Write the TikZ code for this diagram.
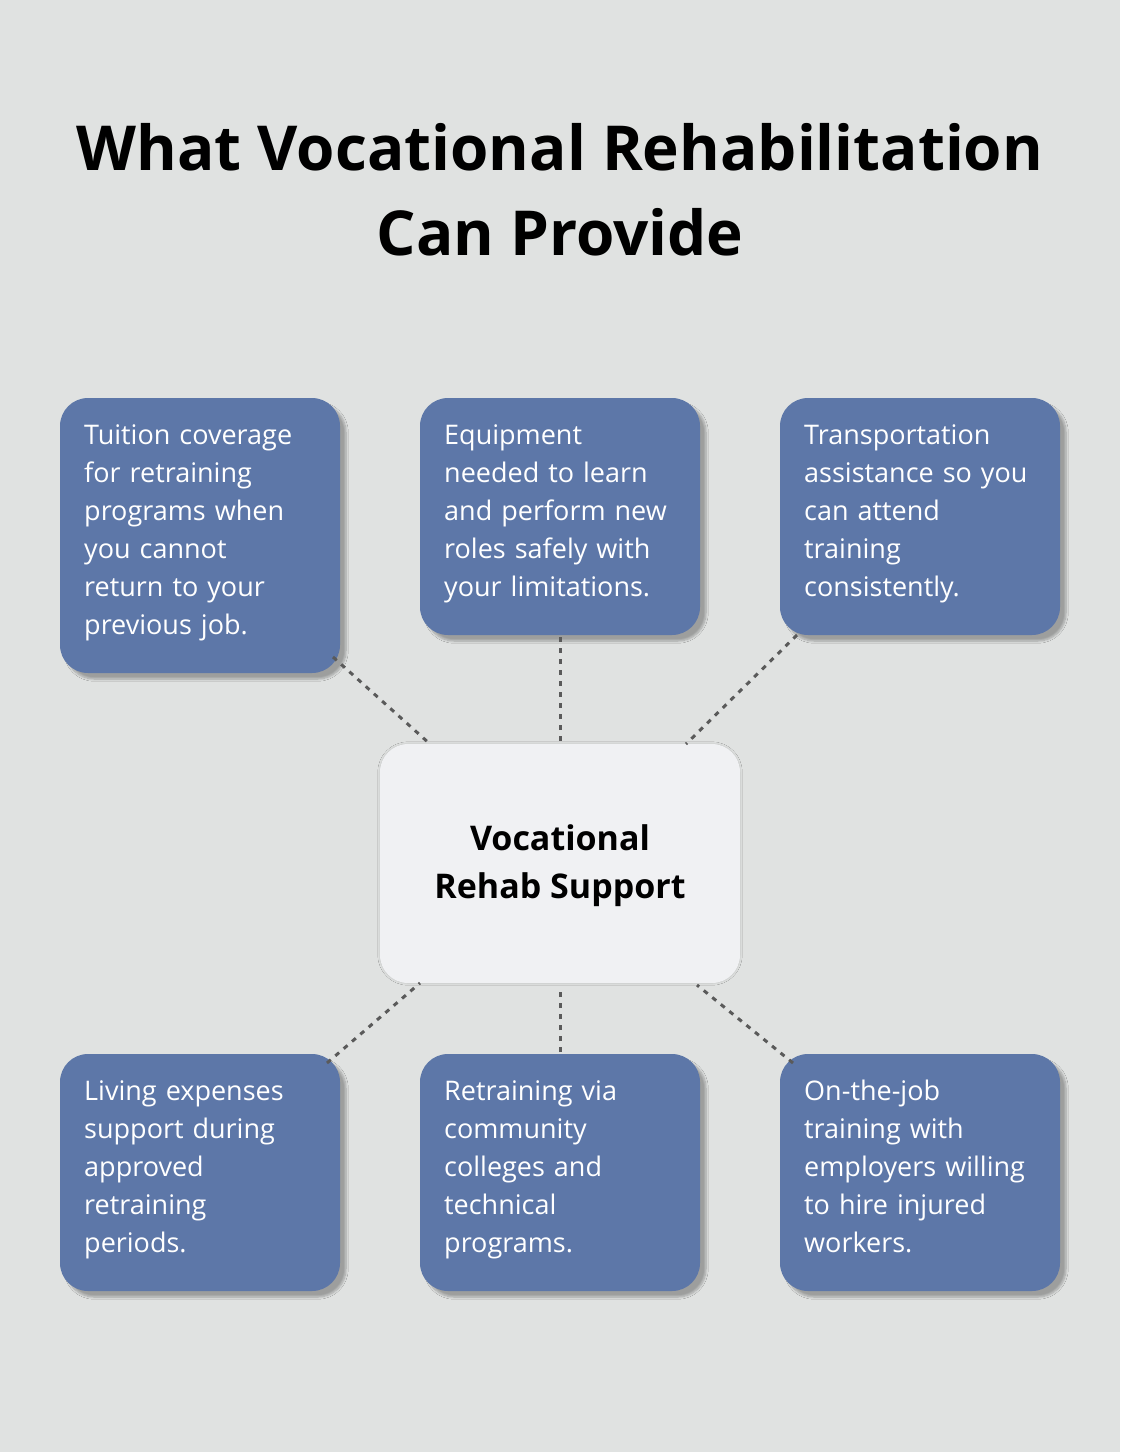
\documentclass[tikz,border=0pt]{standalone}
\usepackage{fontspec}
\setmainfont{Open Sans}
\usetikzlibrary{shadows.blur}
\definecolor{bg}{HTML}{E0E2E1}
\definecolor{bx}{HTML}{5D77A8}
\definecolor{cb}{HTML}{F0F1F3}
\definecolor{ln}{HTML}{5A5A5A}
\begin{document}
\begin{tikzpicture}[x=1pt,y=-1pt,
 box/.style={draw=none,fill=bx,rounded corners=28pt,blur shadow={shadow xshift=6pt,shadow yshift=-6pt,shadow blur steps=8,shadow opacity=30}},
 txt/.style={anchor=north west,align=left,text width=250pt,text=white,font=\fontsize{27}{38}\selectfont,inner sep=0pt},
 con/.style={draw=ln,line width=3pt,dash pattern=on 5pt off 6pt}]
\fill[bg] (0,0) rectangle (1120,1452);
\useasboundingbox (0,0) rectangle (1120,1452);
\node[font=\bfseries\fontsize{62}{85}\selectfont,align=center] (title) at (560,190) {What Vocational Rehabilitation\\Can Provide};
\path[box] (60,398) rectangle (340,673);
\path[box] (420,398) rectangle (700,635);
\path[box] (780,398) rectangle (1060,635);
\path[box] (60,1054) rectangle (340,1291);
\path[box] (420,1054) rectangle (700,1291);
\path[box] (780,1054) rectangle (1060,1291);
\path[fill=cb,rounded corners=28pt,blur shadow={shadow xshift=0pt,shadow yshift=0pt,shadow blur steps=8,shadow opacity=15}] (380,744) rectangle (740,983);
\coordinate (a1) at (333,657); \coordinate (c1) at (430,744);
\coordinate (a2) at (560,637); \coordinate (c2) at (560,742);
\coordinate (a3) at (797,635); \coordinate (c3) at (686,744);
\coordinate (a4) at (327,1063); \coordinate (c4) at (420,983);
\coordinate (a5) at (560,1052); \coordinate (c5) at (560,990);
\coordinate (a6) at (793,1063); \coordinate (c6) at (697,985);
\draw[con] (a1)--(c1); \draw[con] (a2)--(c2); \draw[con] (a3)--(c3);
\draw[con] (a4)--(c4); \draw[con] (a5)--(c5); \draw[con] (a6)--(c6);
\node[txt] (t1) at (84,424) {Tuition coverage\\for retraining\\programs when\\you cannot\\return to your\\previous job.};
\node[txt] (t2) at (444,424) {Equipment\\needed to learn\\and perform new\\roles safely with\\your limitations.};
\node[txt] (t3) at (804,424) {Transportation\\assistance so you\\can attend\\training\\consistently.};
\node[txt] (t4) at (84,1080) {Living expenses\\support during\\approved\\retraining\\periods.};
\node[txt] (t5) at (444,1080) {Retraining via\\community\\colleges and\\technical\\programs.};
\node[txt] (t6) at (804,1080) {On-the-job\\training with\\employers willing\\to hire injured\\workers.};
\node[font=\bfseries\fontsize{34}{48}\selectfont,align=center] (c) at (560,866) {Vocational\\Rehab Support};
\end{tikzpicture}
\end{document}
